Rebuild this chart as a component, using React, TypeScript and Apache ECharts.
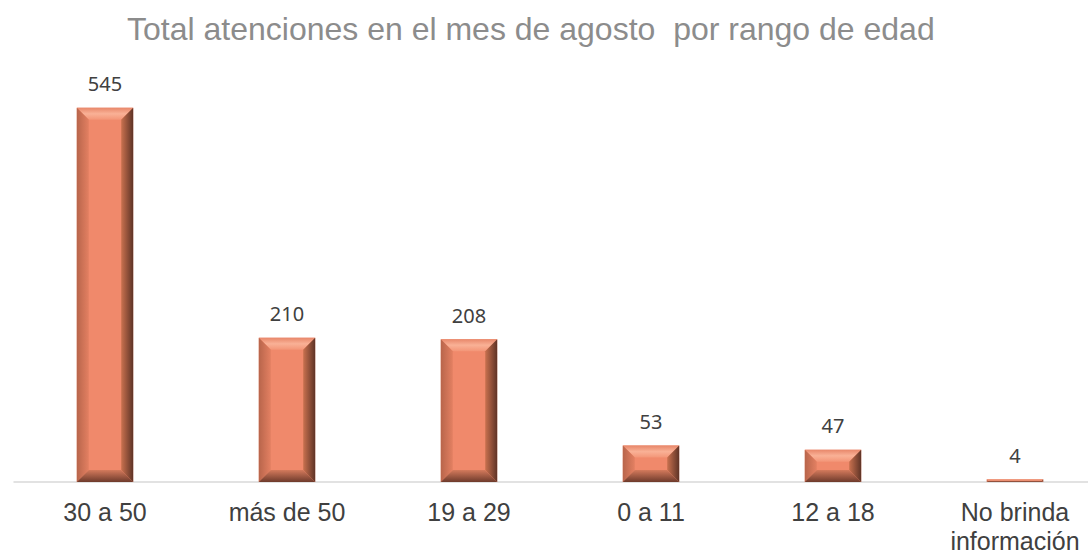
import React, { useEffect, useRef } from "react";
import * as echarts from "echarts";

const categories = ["30 a 50", "más de 50", "19 a 29", "0 a 11", "12 a 18", "No brinda\ninformación"];
const values = [545, 210, 208, 53, 47, 4];
const titleText = "Total atenciones en el mes de agosto  por rango de edad";

export default function App() {
  const ref = useRef<HTMLDivElement>(null);
  useEffect(() => {
    if (!ref.current) return;
    const chart = echarts.init(ref.current, null, { renderer: "svg" });
    const face = "#F0896B";
    const renderItem = (params: any, api: any) => {
      const idx = api.value(0);
      const val = api.value(1);
      const top = api.coord([idx, val]);
      const base = api.coord([idx, 0]);
      const w = api.size([1, 0])[0] * 0.31;
      const x0 = top[0] - w / 2;
      const x1 = top[0] + w / 2;
      const y0 = top[1];
      const y1 = base[1];
      const h = y1 - y0;
      const b = Math.min(12, h / 2, w / 2);
      const children: any[] = [
        { type: "rect", shape: { x: x0, y: y0, width: w, height: h }, style: { fill: face } },
        {
          type: "polygon",
          shape: { points: [[x0, y0], [x1, y0], [x1 - b, y0 + b], [x0 + b, y0 + b]] },
          style: { fill: new echarts.graphic.LinearGradient(0, 0, 0, 1, [{ offset: 0, color: "#E8876A" }, { offset: 0.5, color: "#F9B196" }, { offset: 1, color: "#F39577" }]) },
        },
        {
          type: "polygon",
          shape: { points: [[x0, y0], [x0 + b, y0 + b], [x0 + b, y1 - b], [x0, y1]] },
          style: { fill: new echarts.graphic.LinearGradient(0, 0, 1, 0, [{ offset: 0, color: "#B8654B" }, { offset: 1, color: "#E38062" }]) },
        },
        {
          type: "polygon",
          shape: { points: [[x1, y0], [x1 - b, y0 + b], [x1 - b, y1 - b], [x1, y1]] },
          style: { fill: new echarts.graphic.LinearGradient(0, 0, 1, 0, [{ offset: 0, color: "#C9714F" }, { offset: 1, color: "#5E3326" }]) },
        },
        {
          type: "polygon",
          shape: { points: [[x0, y1], [x0 + b, y1 - b], [x1 - b, y1 - b], [x1, y1]] },
          style: { fill: new echarts.graphic.LinearGradient(0, 0, 0, 1, [{ offset: 0, color: "#D47A5C" }, { offset: 1, color: "#6E3A2B" }]) },
        },
      ];
      return { type: "group", children };
    };
    chart.setOption({
      animation: false,
      backgroundColor: "#ffffff",
      title: {
        text: titleText,
        left: 122,
        top: 8,
        textStyle: { fontFamily: "Liberation Sans", fontSize: 32, fontWeight: "normal", color: "#8C8C8C" },
      },
      grid: { left: 14, right: 0, top: 70, bottom: 75 },
      xAxis: {
        type: "category",
        data: categories,
        axisLine: { lineStyle: { color: "#D9D9D9", width: 1.5 } },
        axisTick: { show: false },
        axisLabel: {
          fontFamily: "Liberation Sans",
          fontSize: 25,
          color: "#404040",
          margin: 15,
          lineHeight: 29,
          interval: 0,
        },
      },
      yAxis: { type: "value", min: 0, max: 600, show: false, splitLine: { show: false } },
      series: [
        {
          type: "custom",
          renderItem,
          data: values.map((v, i) => [i, v]),
          encode: { x: 0, y: 1 },
          z: 3,
        },
        {
          type: "bar",
          data: values,
          barWidth: "31%",
          itemStyle: { color: "rgba(0,0,0,0)" },
          label: {
            show: true,
            position: "top",
            distance: 14,
            fontFamily: "Noto Sans",
            fontSize: 20,
            color: "#404040",
          },
          z: 4,
        },
      ],
    });
    return () => chart.dispose();
  }, []);
  return (
    <div style={{ position: "fixed", left: 0, top: 0, width: 1088, height: 557, overflow: "hidden" }}>
      <div ref={ref} style={{ position: "absolute", left: 0, top: 0, width: 1106, height: 557 }} />
    </div>
  );
}
